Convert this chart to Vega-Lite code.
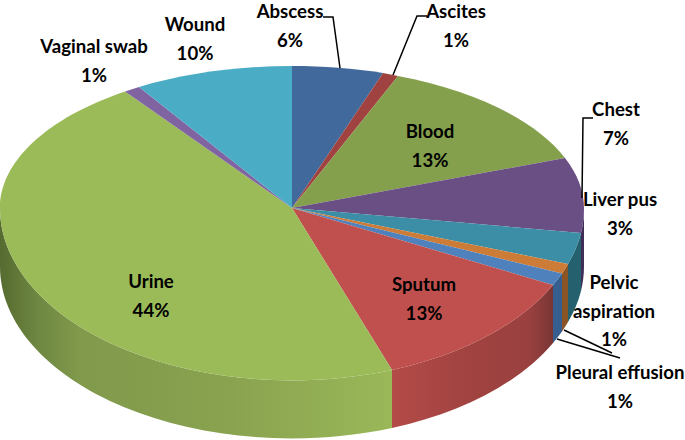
{
"$schema":"https://vega.github.io/schema/vega-lite/v6.json",
"width":584,"height":416,
"autosize":{"type":"none"},
"padding":{"left":0,"right":101,"top":0,"bottom":24},
"background":"white",
"config":{"view":{"stroke":null}},
"data":{"values":[
{"name":"Abscess","value":6,"order":1,"label":"Abscess\n6%"},
{"name":"Ascites","value":1,"order":2,"label":"Ascites\n1%"},
{"name":"Blood","value":13,"order":3,"label":"Blood\n13%"},
{"name":"Chest","value":7,"order":4,"label":"Chest\n7%"},
{"name":"Liver pus","value":3,"order":5,"label":"Liver pus\n3%"},
{"name":"Pelvic aspiration","value":1,"order":6,"label":"Pelvic\naspiration\n1%"},
{"name":"Pleural effusion","value":1,"order":7,"label":"Pleural effusion\n1%"},
{"name":"Sputum","value":13,"order":8,"label":"Sputum\n13%"},
{"name":"Urine","value":44,"order":9,"label":"Urine\n44%"},
{"name":"Vaginal swab","value":1,"order":10,"label":"Vaginal swab\n1%"},
{"name":"Wound","value":10,"order":11,"label":"Wound\n10%"}
]},
"resolve":{"scale":{"shape":"independent","color":"independent"}},
"layer":[
{"transform":[{"filter":{"field":"name","oneOf":["Chest","Liver pus","Pelvic aspiration","Pleural effusion"]}}],
 "mark":{"type":"point","filled":true,"opacity":1,"size":4,"strokeWidth":0},
 "encoding":{
  "shape":{"field":"name","type":"nominal","legend":null,"scale":{"domain":["Chest","Liver pus","Pelvic aspiration","Pleural effusion"],"range":[
   "M292,0A292,172,0,0,1,289,25L289,83A292,172,0,0,0,292,58Z",
   "M289,25A292,172,0,0,1,276,56L276,114A292,172,0,0,0,289,83Z",
   "M276,56A292,172,0,0,1,270,65.5L270,123.5A292,172,0,0,0,276,114Z",
   "M270,65.5A292,172,0,0,1,261,77L261,135A292,172,0,0,0,270,123.5Z"]}},
  "color":{"field":"name","type":"nominal","legend":null,"scale":{"domain":["Chest","Liver pus","Pelvic aspiration","Pleural effusion"],"range":["#3f2f58","#25606f","#8a5424","#365f8f"]}}
 }},
{"transform":[{"filter":{"field":"name","equal":"Sputum"}}],
 "mark":{"type":"point","filled":true,"opacity":1,"size":4,"strokeWidth":0,"shape":"M261,77A292,172,0,0,1,100,162L100,220A292,172,0,0,0,261,135Z",
  "fill":{"gradient":"linear","x1":0,"x2":1,"y1":0,"y2":0,"stops":[{"offset":0,"color":"#b34b48"},{"offset":0.5,"color":"#a04240"},{"offset":0.85,"color":"#9a4140"},{"offset":1,"color":"#793534"}]}},
 "encoding":{}},
{"transform":[{"filter":{"field":"name","equal":"Urine"}}],
 "mark":{"type":"point","filled":true,"opacity":1,"size":4,"strokeWidth":0,"shape":"M100,162A292,172,0,0,1,-292,0L-292,58A292,172,0,0,0,100,220Z",
  "fill":{"gradient":"linear","x1":0,"x2":1,"y1":0,"y2":0,"stops":[{"offset":0,"color":"#566b30"},{"offset":0.1,"color":"#6f8842"},{"offset":0.2,"color":"#80994b"},{"offset":0.6,"color":"#8aa350"},{"offset":1,"color":"#9ab858"}]}},
 "encoding":{}},
{"mark":{"type":"point","filled":true,"opacity":1,"size":4,"strokeWidth":0},
 "encoding":{
  "shape":{"field":"name","type":"nominal","legend":null,"scale":{"domain":["Abscess","Ascites","Blood","Chest","Liver pus","Pelvic aspiration","Pleural effusion","Sputum","Urine","Vaginal swab","Wound"],"range":[
   "M0,0L0,-142A292,142,0,0,1,91,-135Z",
   "M0,0L91,-135A292,142,0,0,1,106,-132Z",
   "M0,0L106,-132A292,142,0,0,1,273,-50Z",
   "M0,0L273,-50A292,142,0,0,1,292,0A292,172,0,0,1,289,25Z",
   "M0,0L289,25A292,172,0,0,1,276,56Z",
   "M0,0L276,56A292,172,0,0,1,270,65.5Z",
   "M0,0L270,65.5A292,172,0,0,1,261,77Z",
   "M0,0L261,77A292,172,0,0,1,100,162Z",
   "M0,0L100,162A292,172,0,0,1,-292,0A292,142,0,0,1,-167,-116.5Z",
   "M0,0L-167,-116.5A292,142,0,0,1,-153,-121Z",
   "M0,0L-153,-121A292,142,0,0,1,0,-142Z"]}},
  "color":{"field":"name","type":"nominal","legend":null,"scale":{"domain":["Abscess","Ascites","Blood","Chest","Liver pus","Pelvic aspiration","Pleural effusion","Sputum","Urine","Vaginal swab","Wound"],"range":["#41699b","#a04340","#84a04d","#6a4f85","#3b8ea5","#cd7c37","#4f81bd","#c0504d","#9bbb59","#8064a2","#4bacc6"]}}
 }},
{"transform":[{"filter":{"field":"name","oneOf":["Abscess","Ascites","Chest","Pelvic aspiration","Pleural effusion"]}}],
 "mark":{"type":"point","filled":false,"opacity":1,"size":4,"strokeWidth":1.5,"stroke":"black"},
 "encoding":{
  "shape":{"field":"name","type":"nominal","legend":null,"scale":{"domain":["Abscess","Ascites","Chest","Pelvic aspiration","Pleural effusion"],"range":[
   "M31,-191L41,-191L48,-140",
   "M135,-192L125,-192L101,-133",
   "M301,-90L291,-90L290,-10",
   "M272,122L320,145",
   "M265,131L328,150"]}}
 }},
{"mark":{"type":"text","font":"Lato","fontWeight":"bold","fontSize":18.6,"lineBreak":"\n","lineHeight":28.5,"align":"center","baseline":"middle","color":"black"},
 "encoding":{
  "text":{"field":"label"},
  "x":{"field":"order","type":"quantitative","axis":null,"scale":{"domain":[1,2,3,4,5,6,7,8,9,10,11],"range":[290,456,430,616,620,614,620,424,151,94,195],"zero":false,"nice":false}},
  "y":{"field":"order","type":"quantitative","axis":null,"scale":{"domain":[1,2,3,4,5,6,7,8,9,10,11],"range":[12,12,132,110,200,283,373,285,282,47,25],"zero":false,"nice":false}}
 }}
]}
